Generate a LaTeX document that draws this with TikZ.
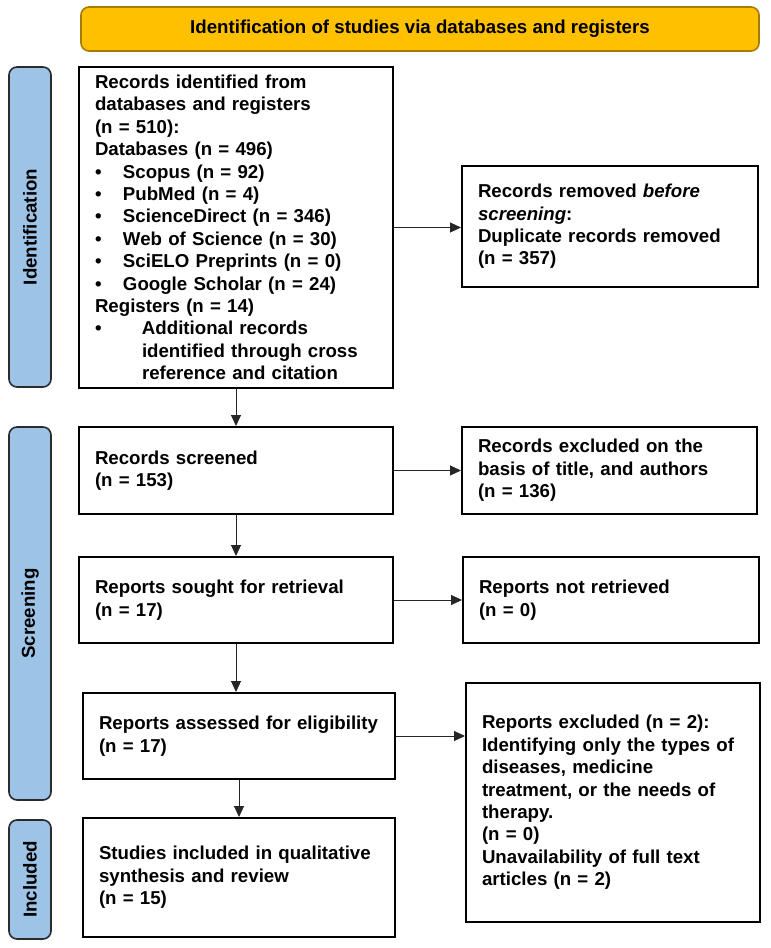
\documentclass[tikz,border=0pt]{standalone}
\usepackage{fontspec}
\setmainfont{Liberation Sans}
\usetikzlibrary{arrows.meta}
\newlength\pxu \setlength\pxu{0.75pt}
\definecolor{bannerfill}{HTML}{FFC000}
\definecolor{bannerdraw}{HTML}{A67C00}
\definecolor{sidefill}{HTML}{9DC3E6}
\definecolor{sidedraw}{HTML}{2B2B2B}
\begin{document}
\begin{tikzpicture}[x=0.75pt,y=-0.75pt,
  every node/.style={font=\fontsize{14}{16.8}\selectfont\bfseries},
  box/.style={draw=black, line width=1.5pt, fill=white, inner xsep=12pt, inner ysep=0pt, align=left},
  side/.style={draw=sidedraw, line width=1.2pt, fill=sidefill, rounded corners=6pt, rotate=90, minimum height=31.5pt, inner sep=0pt},
  banner/.style={draw=bannerdraw, line width=1.2pt, fill=bannerfill, rounded corners=6pt, inner sep=0pt},
  arr/.style={-{Triangle[length=8.25pt,width=7.5pt]}, line width=0.75pt, draw=black!85}]
\useasboundingbox (0,0) rectangle (770,948);

% banner
\node[banner, minimum width=678*0.75pt, minimum height=44*0.75pt] (title) at (420,29) {Identification of studies via databases and registers};

% side bars
\node[side, minimum width=320*0.75pt] (sid) at (30,227) {Identification};
\node[side, minimum width=373*0.75pt] (sscr) at (30,613.5) {Screening};
\node[side, minimum width=119*0.75pt] (sinc) at (30,879.5) {Included};

% left column
\node[box, text width=282\pxu, minimum height=321*0.75pt] (b1) at (236,227.5) {Records identified from\\
databases and registers\\
(n = 510):\\
Databases (n = 496)\\
\makebox[28\pxu][l]{\textbullet}Scopus (n = 92)\\
\makebox[28\pxu][l]{\textbullet}PubMed (n = 4)\\
\makebox[28\pxu][l]{\textbullet}ScienceDirect (n = 346)\\
\makebox[28\pxu][l]{\textbullet}Web of Science (n = 30)\\
\makebox[28\pxu][l]{\textbullet}SciELO Preprints (n = 0)\\
\makebox[28\pxu][l]{\textbullet}Google Scholar (n = 24)\\
Registers (n = 14)\\
\makebox[47\pxu][l]{\textbullet}Additional records\\
\hspace*{47\pxu}identified through cross\\
\hspace*{47\pxu}reference and citation};

\node[box, text width=282\pxu, minimum height=87*0.75pt] (scr) at (236,470.5) {Records screened\\(n = 153)};
\node[box, text width=282\pxu, minimum height=86*0.75pt] (sought) at (236,600) {Reports sought for retrieval\\(n = 17)};
\node[box, text width=280\pxu, minimum height=86*0.75pt] (ass) at (239,736) {Reports assessed for eligibility\\(n = 17)};
\node[box, text width=280\pxu, minimum height=119*0.75pt] (inc) at (239,877.5) {Studies included in qualitative\\synthesis and review\\(n = 15)};

% right column
\node[box, text width=264\pxu, minimum height=121*0.75pt] (rem) at (610,226.5) {Records removed \textit{before}\\\textit{screening}:\\Duplicate records removed\\(n = 357)};
\node[box, text width=263\pxu, minimum height=87*0.75pt] (exc) at (609.5,470.5) {Records excluded on the\\basis of title, and authors\\(n = 136)};
\node[box, text width=264\pxu, minimum height=86*0.75pt] (notret) at (611,600) {Reports not retrieved\\(n = 0)};
\node[box, text width=262\pxu, minimum height=239*0.75pt] (exc2) at (613,802.5) {Reports excluded (n = 2):\\
Identifying only the types of\\
diseases, medicine\\
treatment, or the needs of\\
therapy.\\
(n = 0)\\
Unavailability of full text\\
articles (n = 2)};

% connectors
\draw[arr] (b1.south) -- (scr.north);
\draw[arr] (b1.east) -- (b1.east -| rem.west);
\draw[arr] (scr.east) -- (exc.west);
\draw[arr] (scr.south) -- (sought.north);
\draw[arr] (sought.east) -- (notret.west);
\draw[arr] (sought.south) -- (sought.south |- ass.north);
\draw[arr] (ass.east) -- (ass.east -| exc2.west);
\draw[arr] (ass.south) -- (inc.north);
\end{tikzpicture}
\end{document}
